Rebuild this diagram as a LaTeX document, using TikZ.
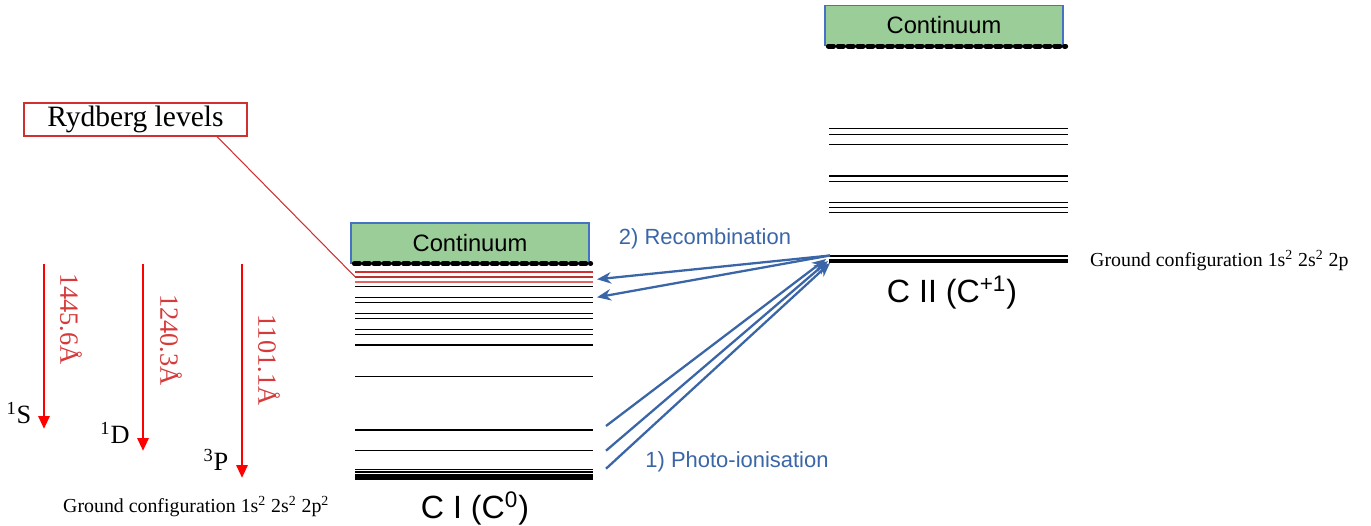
\documentclass[tikz,border=0pt]{standalone}
\usepackage{fontspec}
\setmainfont{Liberation Serif}
\setsansfont{Liberation Sans}
\usetikzlibrary{arrows.meta}
\definecolor{contc}{HTML}{9BCD98}
\definecolor{boxc}{HTML}{4472C4}
\definecolor{procc}{HTML}{3A66A8}
\definecolor{wavec}{HTML}{D63A3A}
\definecolor{rydc}{HTML}{D03030}
\definecolor{rydd}{HTML}{B83232}
\definecolor{rydl}{HTML}{E06666}
\tikzset{
  lv/.style={line width=0.85pt},
  gs/.style={line width=2.6pt},
  cont/.style={draw=boxc,fill=contc,thick,minimum width=4.76cm,minimum height=0.8cm,inner sep=0pt,font=\sffamily\fontsize{13.5}{16}\selectfont},
  dots/.style={line width=2.8pt,line cap=round,dash pattern=on 3pt off 2.6pt},
  ion/.style={font=\sffamily\fontsize{18.3}{21}\selectfont},
  wl/.style={-{Triangle[length=2.6mm,width=2.2mm]},line width=1.7pt,red},
  wlab/.style={rotate=-90,text=wavec,font=\fontsize{15}{18}\selectfont},
  term/.style={font=\fontsize{15}{18}\selectfont},
  gcfg/.style={anchor=west,font=\fontsize{11.3}{13}\selectfont},
  pr/.style={-{Stealth[length=2.8mm,width=2.3mm]},line width=1.3pt,procc},
  prlab/.style={text=procc,font=\sffamily\fontsize{12.5}{15}\selectfont}
}
\begin{document}
\begin{tikzpicture}[x=0.02cm,y=-0.02cm]
\useasboundingbox (0,0) rectangle (1371,526);
% C I
\node[cont] (cont1) at (470,243) {Continuum};
\draw[dots] ([xshift=0.08cm]cont1.south west) -- ([xshift=0.02cm]cont1.south east);
\draw[lv,rydc,line width=1.1pt] (355,271.7) -- (593,271.7);
\draw[lv,rydd,line width=1.3pt] (355,276.7) -- (593,276.7);
\draw[lv,rydl,line width=1.1pt] (355,281.7) -- (593,281.7);
\foreach \y in {286.7,297.7,302.7,313.7,318.7,329.3,334.3,345,376.7,430,450.7,469.5,472}
  \draw[lv] (355,\y) -- (593,\y);
\draw[gs,line width=3.6pt] (355,477) -- (593,477);
\node[ion] (ci) at (475,508) {C I (C\textsuperscript{0})};
% C II
\node[cont] (cont2) at (944,25.5) {Continuum};
\draw[dots] ([xshift=0.08cm]cont2.south west) -- ([xshift=0.04cm]cont2.south east);
\foreach \y in {128.7,134.3,144.7,176,181.7,202.7,207.7,212.7,256}
  \draw[lv] (829,\y) -- (1068,\y);
\draw[gs] (829,261) -- (1068,261);
\node[ion] (cii) at (952,293) {C II (C\textsuperscript{+1})};
\node[gcfg] (gc2) at (1084,261) {Ground configuration 1s\textsuperscript{2} 2s\textsuperscript{2} 2p};
% Rydberg
\node[draw=rydc,line width=0.6pt,minimum width=4.46cm,minimum height=0.66cm,inner sep=0pt,font=\fontsize{16.8}{19}\selectfont] (ryd) at (135.5,119.5) {Rydberg levels};
\coordinate (rydt) at (216,135.5); \coordinate (rydh) at (355,276.7);
\draw[rydc,line width=0.6pt] (rydt) -- (rydh);
% lines
\coordinate (s1) at (44,264); \coordinate (e1) at (44,429);
\coordinate (s2) at (143,264); \coordinate (e2) at (143,451);
\coordinate (s3) at (242,264); \coordinate (e3) at (242,478);
\draw[wl] (s1) -- (e1); \draw[wl] (s2) -- (e2); \draw[wl] (s3) -- (e3);
\node[wlab] (w1) at (71,319) {1445.6Å};
\node[wlab] (w2) at (171,340) {1240.3Å};
\node[wlab] (w3) at (269,360) {1101.1Å};
\node[term] (t1) at (19,413) {\textsuperscript{1}S};
\node[term] (t2) at (115,433) {\textsuperscript{1}D};
\node[term] (t3) at (216,460) {\textsuperscript{3}P};
\node[gcfg] (gc1) at (57,507) {Ground configuration 1s\textsuperscript{2} 2s\textsuperscript{2} 2p\textsuperscript{2}};
% processes
\coordinate (g2) at (830,255.5);
\coordinate (r1) at (597,279.3); \coordinate (r2) at (597,297.3);
\draw[pr] (g2) -- (r1); \draw[pr] (g2) -- (r2);
\coordinate (p1) at (606,426); \coordinate (p2) at (606,450.7); \coordinate (p3) at (606,468.7);
\coordinate (q1) at (826,259); \coordinate (q2) at (828,261); \coordinate (q3) at (830,263);
\draw[pr] (p1) -- (q1); \draw[pr] (p2) -- (q2); \draw[pr] (p3) -- (q3);
\node[prlab] (rec) at (705,239) {2) Recombination};
\node[prlab] (pho) at (737,462) {1) Photo-ionisation};
\end{tikzpicture}
\end{document}
